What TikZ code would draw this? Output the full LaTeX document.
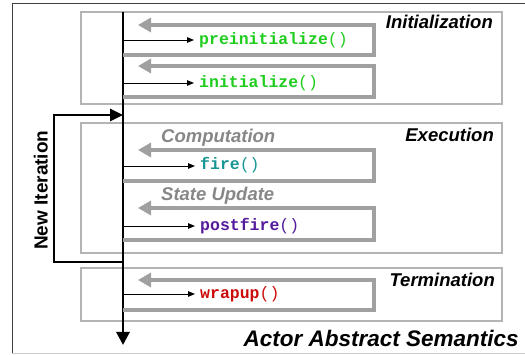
\documentclass[tikz,border=0pt]{standalone}
\usepackage{fontspec}
\usepackage{xcolor}
\usetikzlibrary{arrows.meta}

\newfontfamily\labelfont{Liberation Sans}
\newfontfamily\codefont{Liberation Mono}

\definecolor{boxgray}{RGB}{180,180,180}
\definecolor{loopgray}{RGB}{160,160,160}
\definecolor{textgray}{RGB}{135,135,135}
\definecolor{initgreen}{RGB}{30,205,30}
\definecolor{fireteal}{RGB}{25,150,150}
\definecolor{postpurple}{RGB}{85,25,155}
\definecolor{wrapred}{RGB}{205,10,10}

\tikzset{
  phase/.style={draw=boxgray, line width=1.4pt},
  phaselabel/.style={font=\labelfont\bfseries\itshape\fontsize{18.5}{20}\selectfont, inner sep=0pt},
  steplabel/.style={phaselabel, text=textgray},
  call/.style={font=\codefont\fontsize{16.5}{18}\selectfont, inner xsep=5pt, inner ysep=0pt},
  callarrow/.style={line width=0.9pt, -{Triangle[width=5.5pt,length=7pt]}},
  retloop/.style={draw=loopgray, line width=4.2pt, -{Triangle[width=14pt,length=13pt]}},
  mainline/.style={line width=2.8pt, -{Triangle[width=13pt,length=13pt]}},
  iterloop/.style={line width=2.8pt, -{Triangle[width=12pt,length=13pt]}}
}

\begin{document}
\begin{tikzpicture}[x=1pt, y=-1pt]

\useasboundingbox (0,0) rectangle (525,355);

% Outer frame
\draw[black!75, line width=0.9pt] (525,3) -- (12,3) -- (12,353);
\draw[black!20, line width=0.9pt] (12,353) -- (525,353);

% Phase boxes
\draw[phase] (81,12) rectangle (502,104);
\draw[phase] (81,123) rectangle (502,253);
\draw[phase] (81,268) rectangle (502,321);

\node[phaselabel, anchor=base east] (initlabel) at (493,29) {Initialization};
\node[phaselabel, anchor=base east] (execlabel) at (494,142) {Execution};
\node[phaselabel, anchor=base east] (termlabel) at (495,287) {Termination};

% Gray sub-labels inside Execution
\node[steplabel, anchor=base west] (complabel) at (161,143) {Computation};
\node[steplabel, anchor=base west] (statelabel) at (161,201) {State Update};

% Main time line of the actor
\coordinate (start) at (123,12);
\coordinate (end) at (123,345);
\draw[mainline] (start) -- (end);

% preinitialize()
\coordinate (preIn) at (123,40);
\node[call, anchor=base west, text=initgreen] (pre) at (194,44.5) {\textbf{preinitialize}()};
\draw[callarrow] (preIn) -- (preIn -| pre.west);
\coordinate (preA) at (123,55);
\coordinate (preB) at (374,25);
\coordinate (preC) at (138,25);
\draw[retloop] (preA) -| (preB) -- (preC);

% initialize()
\coordinate (initIn) at (123,83);
\node[call, anchor=base west, text=initgreen] (init) at (194,87.5) {\textbf{initialize}()};
\draw[callarrow] (initIn) -- (initIn -| init.west);
\coordinate (initA) at (123,97);
\coordinate (initB) at (374,66);
\coordinate (initC) at (138,66);
\draw[retloop] (initA) -| (initB) -- (initC);

% fire()
\coordinate (fireIn) at (123,166);
\node[call, anchor=base west, text=fireteal] (fire) at (195,170) {\textbf{fire}()};
\draw[callarrow] (fireIn) -- (fireIn -| fire.west);
\coordinate (fireA) at (123,181);
\coordinate (fireB) at (374,150);
\coordinate (fireC) at (138,150);
\draw[retloop] (fireA) -| (fireB) -- (fireC);

% postfire()
\coordinate (postIn) at (123,226);
\node[call, anchor=base west, text=postpurple] (post) at (195,230.5) {\textbf{postfire}()};
\draw[callarrow] (postIn) -- (postIn -| post.west);
\coordinate (postA) at (123,240);
\coordinate (postB) at (374,208);
\coordinate (postC) at (138,208);
\draw[retloop] (postA) -| (postB) -- (postC);

% wrapup()
\coordinate (wrapIn) at (123,294);
\node[call, anchor=base west, text=wrapred] (wrap) at (195,298.5) {\textbf{wrapup}()};
\draw[callarrow] (wrapIn) -- (wrapIn -| wrap.west);
\coordinate (wrapA) at (123,310);
\coordinate (wrapB) at (374,280);
\coordinate (wrapC) at (138,280);
\draw[retloop] (wrapA) -| (wrapB) -- (wrapC);

% Iteration back loop
\coordinate (iterOut) at (123,262);
\coordinate (iterLeft) at (54,115);
\coordinate (iterIn) at (123,115);
\draw[iterloop] (iterOut) -| (iterLeft) -- (iterIn);
\node[font=\labelfont\bfseries\fontsize{19}{21}\selectfont, inner sep=0pt, rotate=90, anchor=base west] (iterlabel) at (47.5,250) {New Iteration};

% Title
\node[phaselabel, font=\labelfont\bfseries\itshape\fontsize{22.5}{24}\selectfont, anchor=base east] (title) at (519,347) {Actor Abstract Semantics};

\end{tikzpicture}
\end{document}
